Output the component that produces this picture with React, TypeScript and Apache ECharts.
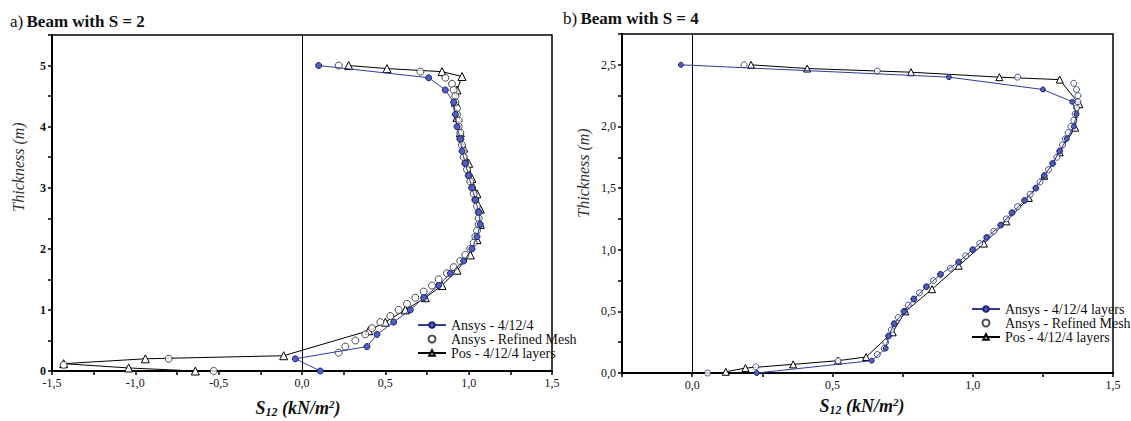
import React, { useEffect, useRef } from "react";
import * as echarts from "echarts";

// ---------- Data: a) Beam with S = 2 ----------
const L_ansys_t = [5.0, 4.8, 4.6, 4.4, 4.2, 4.0, 3.8, 3.6, 3.4, 3.2, 3.0, 2.8, 2.6, 2.4, 2.2, 2.0, 1.8, 1.6, 1.4, 1.2, 1.0, 0.8, 0.6, 0.4, 0.2, 0.0];
const L_ansys_s = [0.10, 0.76, 0.86, 0.91, 0.92, 0.93, 0.95, 0.96, 0.98, 1.00, 1.02, 1.04, 1.06, 1.07, 1.05, 1.02, 0.97, 0.89, 0.82, 0.73, 0.65, 0.55, 0.45, 0.39, -0.04, 0.11];

const L_ref_t = [5.0, 4.9, 4.8, 4.7, 4.6, 4.5, 4.4, 4.3, 4.2, 4.1, 4.0, 3.9, 3.8, 3.7, 3.6, 3.5, 3.4, 3.3, 3.2, 3.1, 3.0, 2.9, 2.8, 2.7, 2.6, 2.5, 2.4, 2.3, 2.2, 2.1, 2.0, 1.9, 1.8, 1.7, 1.6, 1.5, 1.4, 1.3, 1.2, 1.1, 1.0, 0.9, 0.8, 0.7, 0.6, 0.5, 0.4, 0.3, 0.2, 0.1, 0.0];
const L_ref_s = [0.22, 0.71, 0.86, 0.90, 0.91, 0.92, 0.92, 0.93, 0.93, 0.94, 0.94, 0.95, 0.95, 0.96, 0.97, 0.97, 0.98, 0.99, 1.00, 1.01, 1.02, 1.03, 1.04, 1.05, 1.06, 1.06, 1.06, 1.05, 1.04, 1.03, 1.01, 0.98, 0.95, 0.91, 0.87, 0.82, 0.78, 0.73, 0.68, 0.63, 0.58, 0.53, 0.47, 0.42, 0.38, 0.32, 0.26, 0.22, -0.80, -1.43, -0.53];

const L_pos_t = [5.0, 4.95, 4.9, 4.82, 4.6, 4.4, 4.15, 3.9, 3.65, 3.4, 3.15, 2.9, 2.65, 2.4, 2.15, 1.9, 1.65, 1.4, 1.2, 1.0, 0.8, 0.66, 0.25, 0.2, 0.12, 0.05, 0.0];
const L_pos_s = [0.28, 0.51, 0.84, 0.96, 0.93, 0.92, 0.93, 0.95, 0.97, 1.00, 1.02, 1.05, 1.07, 1.07, 1.05, 1.01, 0.93, 0.84, 0.74, 0.62, 0.50, 0.40, -0.11, -0.94, -1.43, -1.04, -0.64];

// ---------- Data: b) Beam with S = 4 ----------
const R_ansys_t = [2.5, 2.4, 2.3, 2.2, 2.1, 2.0, 1.9, 1.8, 1.7, 1.6, 1.5, 1.4, 1.3, 1.2, 1.1, 1.0, 0.9, 0.8, 0.7, 0.6, 0.5, 0.4, 0.3, 0.2, 0.1, 0.0];
const R_ansys_s = [-0.04, 0.915, 1.25, 1.355, 1.37, 1.36, 1.335, 1.31, 1.285, 1.255, 1.225, 1.185, 1.14, 1.10, 1.05, 1.0, 0.95, 0.885, 0.835, 0.79, 0.755, 0.72, 0.70, 0.69, 0.64, 0.23];

const R_ref_t = [2.5, 2.45, 2.4, 2.35, 2.3, 2.25, 2.2, 2.15, 2.1, 2.05, 2.0, 1.95, 1.9, 1.85, 1.8, 1.75, 1.7, 1.65, 1.6, 1.55, 1.5, 1.45, 1.4, 1.35, 1.3, 1.25, 1.2, 1.15, 1.1, 1.05, 1.0, 0.95, 0.9, 0.85, 0.8, 0.75, 0.7, 0.65, 0.6, 0.55, 0.5, 0.45, 0.4, 0.35, 0.3, 0.25, 0.2, 0.15, 0.1, 0.05, 0.0];
const R_ref_s = [0.185, 0.66, 1.16, 1.36, 1.37, 1.375, 1.375, 1.37, 1.365, 1.36, 1.35, 1.34, 1.33, 1.32, 1.31, 1.30, 1.285, 1.27, 1.255, 1.24, 1.225, 1.205, 1.185, 1.16, 1.14, 1.12, 1.10, 1.075, 1.05, 1.025, 1.0, 0.975, 0.95, 0.92, 0.885, 0.86, 0.835, 0.81, 0.79, 0.77, 0.755, 0.735, 0.72, 0.71, 0.70, 0.69, 0.685, 0.66, 0.52, 0.227, 0.055];

const R_pos_t = [2.5, 2.47, 2.44, 2.40, 2.38, 2.18, 1.99, 1.79, 1.60, 1.42, 1.23, 1.05, 0.87, 0.68, 0.50, 0.33, 0.13, 0.10, 0.07, 0.04, 0.01];
const R_pos_s = [0.21, 0.41, 0.78, 1.095, 1.31, 1.38, 1.365, 1.31, 1.255, 1.20, 1.12, 1.04, 0.95, 0.855, 0.76, 0.715, 0.62, 0.52, 0.36, 0.19, 0.12];

const L_names = ["Ansys - 4/12/4", "Ansys - Refined Mesh", "Pos - 4/12/4 layers"];
const R_names = ["Ansys - 4/12/4 layers", "Ansys - Refined Mesh", "Pos - 4/12/4 layers"];

const SERIF = "Liberation Serif";
const BLUE = "#2e3c9e";

const pairs = (xs: number[], ys: number[]) => xs.map((x, i) => [x, ys[i]]);
const comma = (v: number) => v.toFixed(1).replace(".", ",");
const halfLabel = (v: number) =>
  Math.abs(v * 2 - Math.round(v * 2)) < 1e-6 ? comma(v) : "";

function makeSeries(idx: number, names: string[], a: number[][], r: number[][], p: number[][], size: number) {
  return [
    {
      name: names[0], type: "line", xAxisIndex: idx, yAxisIndex: idx, data: a,
      showSymbol: true, showAllSymbol: true, symbol: "circle", symbolSize: size - 1,
      lineStyle: { color: BLUE, width: 1 },
      itemStyle: { color: "#5060c0", borderColor: "#1b246e", borderWidth: 1 },
      z: 4,
      markLine: {
        silent: true, symbol: "none", label: { show: false },
        lineStyle: { color: "#000", width: 1, type: "solid" },
        data: [{ xAxis: 0 }],
      },
    },
    {
      name: names[1], type: "scatter", xAxisIndex: idx, yAxisIndex: idx, data: r,
      symbol: "circle", symbolSize: size,
      itemStyle: { color: "#fff", borderColor: idx === 0 ? "#222" : "#1e2a70", borderWidth: 1 },
      z: 3,
    },
    {
      name: names[2], type: "line", xAxisIndex: idx, yAxisIndex: idx, data: p,
      showSymbol: true, showAllSymbol: true, symbol: "triangle", symbolSize: size + 1,
      lineStyle: { color: "#000", width: 1 },
      itemStyle: { color: "#fff", borderColor: "#000", borderWidth: 1 },
      z: 2,
    },
  ];
}

const axisCommon = {
  axisLine: { show: true, onZero: false, lineStyle: { color: "#000", width: 2 } },
  axisTick: { show: true, inside: false, length: 4, lineStyle: { color: "#000", width: 1.5 } },
  splitLine: { show: false },
};

const labelStyle = { color: "#111", fontFamily: SERIF, fontSize: 12 };

function s12Title(cx: number, cy: number) {
  return {
    type: "text", x: cx, y: cy,
    style: {
      text: "{a|S}{s|12}{a| (kN/m}{p|2}{a|)}",
      align: "center", verticalAlign: "middle", textAlign: "center", textVerticalAlign: "middle",
      fill: "#111",
      rich: {
        a: { fontFamily: SERIF, fontSize: 18, fontStyle: "italic", fontWeight: "bold", fill: "#111" },
        s: { fontFamily: SERIF, fontSize: 12, fontStyle: "italic", fontWeight: "bold", padding: [8, 0, 0, 0], fill: "#111" },
        p: { fontFamily: SERIF, fontSize: 11, fontStyle: "italic", fontWeight: "bold", padding: [0, 0, 9, 0], fill: "#111" },
      },
    },
  };
}

function thickTitle(cx: number, cy: number) {
  return {
    type: "text", x: cx, y: cy, rotation: Math.PI / 2,
    style: {
      text: "Thickness (m)",
      align: "center", verticalAlign: "middle", textAlign: "center", textVerticalAlign: "middle",
      fill: "#333", fontFamily: SERIF, fontSize: 16, fontStyle: "italic",
    },
  };
}

function panelTitle(x: number, y: number, letter: string, s: string) {
  return {
    type: "text", x, y,
    style: {
      text: `{r|${letter})} {b|Beam with S = ${s}}`,
      align: "left", verticalAlign: "middle", textAlign: "left", textVerticalAlign: "middle",
      rich: {
        r: { fontFamily: SERIF, fontSize: 17, fill: "#111" },
        b: { fontFamily: SERIF, fontSize: 17, fontWeight: "bold", fill: "#111" },
      },
    },
  };
}

export default function App() {
  const ref = useRef<HTMLDivElement>(null);

  useEffect(() => {
    if (!ref.current) return;
    const chart = echarts.init(ref.current, undefined, { renderer: "svg" });

    const option: any = {
      animation: false,
      backgroundColor: "#fff",
      textStyle: { fontFamily: SERIF },
      grid: [
        { left: 52, top: 35, width: 500, height: 336, show: true, borderColor: "#000", borderWidth: 1.5, backgroundColor: "transparent" },
        { left: 622, top: 34, width: 491, height: 339, show: true, borderColor: "#000", borderWidth: 1.5, backgroundColor: "transparent" },
      ],
      xAxis: [
        { ...axisCommon, type: "value", gridIndex: 0, min: -1.5, max: 1.5, interval: 0.25, axisLabel: { ...labelStyle, margin: 6, formatter: halfLabel } },
        { ...axisCommon, type: "value", gridIndex: 1, min: -0.25, max: 1.5, interval: 0.25, axisLabel: { ...labelStyle, margin: 6, formatter: halfLabel } },
      ],
      yAxis: [
        {
          ...axisCommon, type: "value", gridIndex: 0, min: 0, max: 5.5, interval: 0.5,
          axisLabel: {
            ...labelStyle, fontWeight: "bold", margin: 6,
            formatter: (v: number) => (Math.abs(v - Math.round(v)) < 1e-6 && v <= 5 ? String(Math.round(v)) : ""),
          },
        },
        {
          ...axisCommon, type: "value", gridIndex: 1, min: 0, max: 2.75, interval: 0.25,
          axisLabel: { ...labelStyle, margin: 6, formatter: (v: number) => (v <= 2.5 ? halfLabel(v) : "") },
        },
      ],
      legend: [
        {
          data: L_names, orient: "vertical", left: 412, top: 313, itemWidth: 28, itemHeight: 7, itemGap: 0,
          textStyle: { fontFamily: SERIF, fontSize: 14, color: "#111", lineHeight: 14 },
        },
        {
          data: R_names, orient: "vertical", left: 966, top: 297, itemWidth: 28, itemHeight: 7, itemGap: 0,
          textStyle: { fontFamily: SERIF, fontSize: 14, color: "#111", lineHeight: 14 },
        },
      ],
      series: [
        ...makeSeries(0, L_names, pairs(L_ansys_s, L_ansys_t), pairs(L_ref_s, L_ref_t), pairs(L_pos_s, L_pos_t), 7),
        ...makeSeries(1, R_names, pairs(R_ansys_s, R_ansys_t), pairs(R_ref_s, R_ref_t), pairs(R_pos_s, R_pos_t), 6),
      ],
      graphic: [
        panelTitle(10, 21, "a", "2"),
        panelTitle(563, 18, "b", "4"),
        thickTitle(18, 167),
        thickTitle(583, 173),
        s12Title(298, 408),
        s12Title(862, 406),
      ],
    };

    chart.setOption(option);
    return () => chart.dispose();
  }, []);

  return (
    <div ref={ref} style={{ position: "absolute", left: 0, top: 0, width: 1131, height: 421, background: "#fff" }} />
  );
}
